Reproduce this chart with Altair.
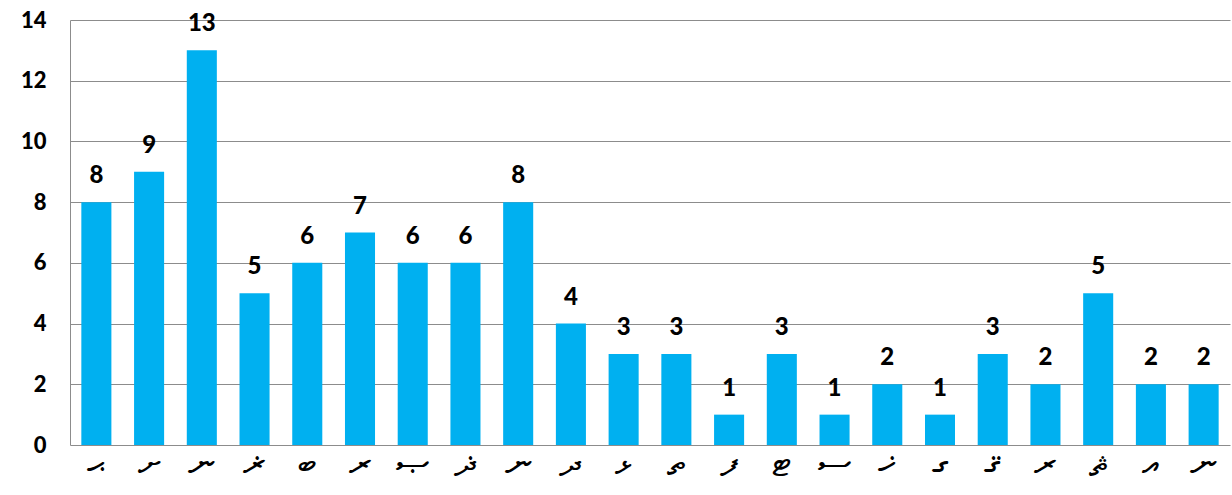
import json
import altair as alt
import pandas as pd

# Thaana letters along the horizontal axis, left to right
letters = ["ޙ", "ށ", "ނ", "ޜ", "ބ", "ރ", "ޞ", "ޛ", "ނ", "ދ", "ޅ",
           "ތ", "ފ", "ޓ", "ސ", "ޚ", "ގ", "ޤ", "ރ", "ޘ", "އ", "ނ"]
counts = [8, 9, 13, 5, 6, 7, 6, 6, 8, 4, 3, 3, 1, 3, 1, 2, 1, 3, 2, 5, 2, 2]
y_ticks = [0, 2, 4, 6, 8, 10, 12, 14]

df = pd.DataFrame({"pos": list(range(len(letters))), "letter": letters, "count": counts})

label_expr = json.dumps(letters, ensure_ascii=False) + "[datum.value]"

x = alt.X(
    "pos:O",
    title=None,
    scale=alt.Scale(paddingInner=0.43, paddingOuter=0.215),
    axis=alt.Axis(
        labelExpr=label_expr,
        labelAngle=0,
        labelFontSize=38,
        labelColor="#000000",
        labelPadding=0,
        labelBaseline="top",
        ticks=False,
        domain=False,
        grid=False,
    ),
)
y = alt.Y(
    "count:Q",
    title=None,
    scale=alt.Scale(domain=[0, 14], nice=False),
    axis=alt.Axis(
        values=y_ticks,
        labelFont="Lato",
        labelFontWeight=900,
        labelFontSize=22,
        labelColor="#000000",
        labelPadding=24,
        ticks=False,
        domain=True,
        domainColor="#8c8c8c",
        gridColor="#8c8c8c",
        gridWidth=1,
    ),
)

bars = alt.Chart(df).mark_bar(color="#00B0F0").encode(x=x, y=y)
labels = alt.Chart(df).mark_text(
    font="Lato", fontWeight=900, fontSize=24, color="#000000",
    baseline="alphabetic", dy=-19,
).encode(x=x, y=y, text="count:Q")

chart = (
    (bars + labels)
    .properties(
        width=1160,
        height=425,
        padding={"left": 70, "top": 20, "right": 2, "bottom": 50},
        autosize="none",
        background="#ffffff",
    )
    .configure_view(stroke=None)
)

chart.save("out.html", embed_options={"renderer": "svg", "actions": False})
